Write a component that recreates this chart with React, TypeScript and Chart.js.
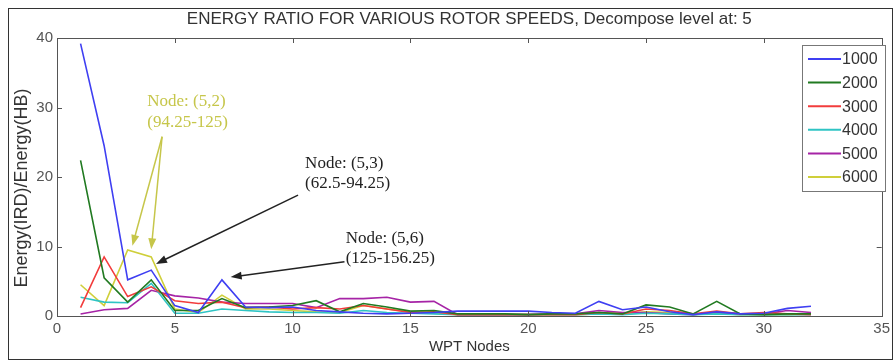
import { useEffect, useRef } from "react";
import { Chart, registerables } from "chart.js";
Chart.register(...registerables);

const nodes = [1, 2, 3, 4, 5, 6, 7, 8, 9, 10, 11, 12, 13, 14, 15, 16, 17, 18, 19, 20, 21, 22, 23, 24, 25, 26, 27, 28, 29, 30, 31, 32];

const s1000 = [39.2, 24.5, 5.2, 6.6, 1.5, 0.5, 5.2, 1.3, 1.2, 1.3, 0.8, 0.6, 0.4, 0.3, 0.4, 0.5, 0.7, 0.7, 0.7, 0.7, 0.5, 0.4, 2.1, 0.9, 1.3, 0.6, 0.2, 0.6, 0.3, 0.4, 1.1, 1.4];
const s2000 = [22.4, 5.5, 2.0, 5.2, 0.8, 0.8, 2.5, 1.2, 1.3, 1.5, 2.2, 0.6, 1.8, 1.3, 0.7, 0.8, 0.3, 0.3, 0.3, 0.2, 0.3, 0.3, 0.5, 0.3, 1.6, 1.3, 0.3, 2.1, 0.3, 0.2, 0.3, 0.3];
const s3000 = [1.2, 8.5, 2.8, 4.2, 2.2, 1.8, 2.0, 1.2, 1.3, 1.0, 1.2, 1.0, 1.5, 1.0, 0.5, 0.6, 0.2, 0.2, 0.2, 0.2, 0.2, 0.2, 0.5, 0.3, 1.0, 0.8, 0.3, 0.7, 0.3, 0.5, 0.3, 0.2];
const s4000 = [2.7, 2.0, 1.9, 4.7, 0.4, 0.4, 1.0, 0.8, 0.6, 0.5, 0.5, 0.4, 0.8, 0.5, 0.4, 0.3, 0.2, 0.2, 0.2, 0.2, 0.2, 0.2, 0.3, 0.2, 0.4, 0.3, 0.2, 0.3, 0.2, 0.2, 0.2, 0.2];
const s5000 = [0.3, 0.9, 1.1, 3.7, 2.9, 2.6, 2.0, 1.8, 1.8, 1.8, 1.2, 2.5, 2.5, 2.7, 2.0, 2.1, 0.2, 0.2, 0.2, 0.2, 0.3, 0.3, 0.8, 0.5, 0.5, 0.3, 0.2, 0.5, 0.3, 0.3, 0.8, 0.5];
const s6000 = [4.5, 1.5, 9.5, 8.5, 1.0, 0.5, 3.0, 1.0, 1.0, 0.8, 0.6, 0.5, 1.5, 1.0, 0.6, 0.4, 0.2, 0.2, 0.2, 0.2, 0.2, 0.2, 0.3, 0.3, 0.6, 0.5, 0.2, 0.4, 0.2, 0.2, 0.2, 0.3];

const seriesLabels = ["1000", "2000", "3000", "4000", "5000", "6000"];
const seriesValues = [s1000, s2000, s3000, s4000, s5000, s6000];
const seriesColors = ["#3f3ff2", "#217a21", "#f23c3c", "#2fc4c4", "#a624a6", "#cfcf3a"];

const xTicks = [0, 5, 10, 15, 20, 25, 30, 35];
const yTicks = [0, 10, 20, 30, 40];

const titleText = "ENERGY RATIO FOR VARIOUS ROTOR SPEEDS, Decompose level at: 5";
const xTitle = "WPT Nodes";
const yTitle = "Energy(IRD)/Energy(HB)";

// annotations in data coordinates
const annotations = [
  {
    color: "#c6c64a",
    lines: ["Node: (5,2)", "(94.25-125)"],
    textX: 3.83, textY: [30.9, 27.8],
    arrows: [
      { from: [4.46, 25.8], to: [3.2, 10.1] },
      { from: [4.46, 25.8], to: [4.0, 9.6] },
    ],
  },
  {
    color: "#222222",
    lines: ["Node: (5,3)", "(62.5-94.25)"],
    textX: 10.53, textY: [22.0, 19.1],
    arrows: [{ from: [10.23, 17.4], to: [4.2, 7.5] }],
  },
  {
    color: "#222222",
    lines: ["Node: (5,6)", "(125-156.25)"],
    textX: 12.25, textY: [11.2, 8.3],
    arrows: [{ from: [12.2, 7.8], to: [7.37, 5.6] }],
  },
];

function drawArrow(ctx: CanvasRenderingContext2D, x1: number, y1: number, x2: number, y2: number, color: string) {
  const ang = Math.atan2(y2 - y1, x2 - x1);
  const len = 11;
  const w = 4;
  ctx.save();
  ctx.strokeStyle = color;
  ctx.fillStyle = color;
  ctx.lineWidth = 1.5;
  ctx.beginPath();
  ctx.moveTo(x1, y1);
  ctx.lineTo(x2 - Math.cos(ang) * len * 0.8, y2 - Math.sin(ang) * len * 0.8);
  ctx.stroke();
  ctx.beginPath();
  ctx.moveTo(x2, y2);
  ctx.lineTo(x2 - Math.cos(ang) * len + Math.sin(ang) * w, y2 - Math.sin(ang) * len - Math.cos(ang) * w);
  ctx.lineTo(x2 - Math.cos(ang) * len - Math.sin(ang) * w, y2 - Math.sin(ang) * len + Math.cos(ang) * w);
  ctx.closePath();
  ctx.fill();
  ctx.restore();
}

const decorPlugin = {
  id: "decor",
  afterDraw(chart: any) {
    const ctx: CanvasRenderingContext2D = chart.ctx;
    const ca = chart.chartArea;
    const xs = chart.scales.x;
    const ys = chart.scales.y;
    ctx.save();
    // outer border
    ctx.strokeStyle = "#333";
    ctx.lineWidth = 1;
    ctx.strokeRect(8.5, 8.5, 884, 351);
    // plot frame
    ctx.strokeStyle = "#555";
    ctx.strokeRect(Math.round(ca.left) + 0.5, Math.round(ca.top) + 0.5, Math.round(ca.right - ca.left), Math.round(ca.bottom - ca.top));
    // inner ticks
    ctx.beginPath();
    const tl = 5;
    xTicks.forEach((t) => {
      const px = Math.round(xs.getPixelForValue(t)) + 0.5;
      ctx.moveTo(px, ca.bottom); ctx.lineTo(px, ca.bottom - tl);
      ctx.moveTo(px, ca.top); ctx.lineTo(px, ca.top + tl);
    });
    yTicks.forEach((t) => {
      const py = Math.round(ys.getPixelForValue(t)) + 0.5;
      ctx.moveTo(ca.left, py); ctx.lineTo(ca.left + tl, py);
      ctx.moveTo(ca.right, py); ctx.lineTo(ca.right - tl, py);
    });
    ctx.stroke();
    // title
    ctx.fillStyle = "#333";
    ctx.font = "17px 'Liberation Sans', Arial, sans-serif";
    ctx.textAlign = "center";
    ctx.textBaseline = "middle";
    ctx.fillText(titleText, (ca.left + ca.right) / 2, 19);
    // x title
    ctx.font = "15px 'Liberation Sans', Arial, sans-serif";
    ctx.fillText(xTitle, (ca.left + ca.right) / 2, 347);
    // y title
    ctx.save();
    ctx.translate(22, 188);
    ctx.rotate(-Math.PI / 2);
    ctx.font = "18px 'Liberation Sans', Arial, sans-serif";
    ctx.fillText(yTitle, 0, 0);
    ctx.restore();
    // annotations
    annotations.forEach((a) => {
      ctx.fillStyle = a.color;
      ctx.font = "17px 'Liberation Serif', 'Times New Roman', serif";
      ctx.textAlign = "left";
      ctx.textBaseline = "middle";
      a.lines.forEach((ln, i) => {
        ctx.fillText(ln, xs.getPixelForValue(a.textX), ys.getPixelForValue(a.textY[i]));
      });
      a.arrows.forEach((ar) => {
        drawArrow(ctx, xs.getPixelForValue(ar.from[0]), ys.getPixelForValue(ar.from[1]), xs.getPixelForValue(ar.to[0]), ys.getPixelForValue(ar.to[1]), a.color);
      });
    });
    // legend
    const lx = 802, ly = 45, lw = 83, lh = 146;
    ctx.fillStyle = "#fff";
    ctx.fillRect(lx, ly, lw, lh);
    ctx.strokeStyle = "#777";
    ctx.strokeRect(lx + 0.5, ly + 0.5, lw, lh);
    ctx.font = "16px 'Liberation Sans', Arial, sans-serif";
    ctx.textAlign = "left";
    ctx.textBaseline = "middle";
    chart.data.datasets.forEach((ds: any, i: number) => {
      const yy = 59 + i * 23.6;
      ctx.strokeStyle = ds.borderColor;
      ctx.lineWidth = 2;
      ctx.beginPath();
      ctx.moveTo(808, yy);
      ctx.lineTo(841, yy);
      ctx.stroke();
      ctx.fillStyle = "#333";
      ctx.fillText(ds.label, 842, yy + 1);
    });
    ctx.restore();
  },
};

export default function App() {
  const ref = useRef<HTMLCanvasElement>(null);
  useEffect(() => {
    if (!ref.current) return;
    const chart = new Chart(ref.current, {
      type: "line",
      data: {
        datasets: seriesLabels.map((lab, i) => ({
          label: lab,
          data: seriesValues[i].map((v, j) => ({ x: nodes[j], y: v })),
          borderColor: seriesColors[i],
          backgroundColor: seriesColors[i],
          borderWidth: 1.6,
          pointRadius: 0,
          tension: 0,
          fill: false,
        })),
      },
      options: {
        animation: false,
        responsive: false,
        devicePixelRatio: 1,
        layout: { padding: { left: 0, top: 38, right: 7, bottom: 0 } },
        plugins: { legend: { display: false }, title: { display: false }, tooltip: { enabled: false } },
        scales: {
          x: {
            type: "linear",
            min: 0,
            max: 35,
            afterBuildTicks: (s: any) => { s.ticks = xTicks.map((v) => ({ value: v })); },
            afterFit: (s: any) => { s.height = 45; },
            ticks: { color: "#555", font: { family: "'Liberation Sans', Arial, sans-serif", size: 15 }, padding: 4, maxRotation: 0 },
            grid: { display: false, drawTicks: false },
            border: { display: false },
          },
          y: {
            min: 0,
            max: 40,
            afterBuildTicks: (s: any) => { s.ticks = yTicks.map((v) => ({ value: v })); },
            afterFit: (s: any) => { s.width = 57; },
            ticks: { color: "#555", font: { family: "'Liberation Sans', Arial, sans-serif", size: 15 }, padding: 4 },
            grid: { display: false, drawTicks: false },
            border: { display: false },
          },
        },
      },
      plugins: [decorPlugin],
    } as any);
    return () => chart.destroy();
  }, []);
  return (
    <div style={{ position: "absolute", left: 0, top: 0, width: 894, height: 361, background: "#fff" }}>
      <canvas ref={ref} width={894} height={361} style={{ width: 894, height: 361, display: "block" }} />
    </div>
  );
}
